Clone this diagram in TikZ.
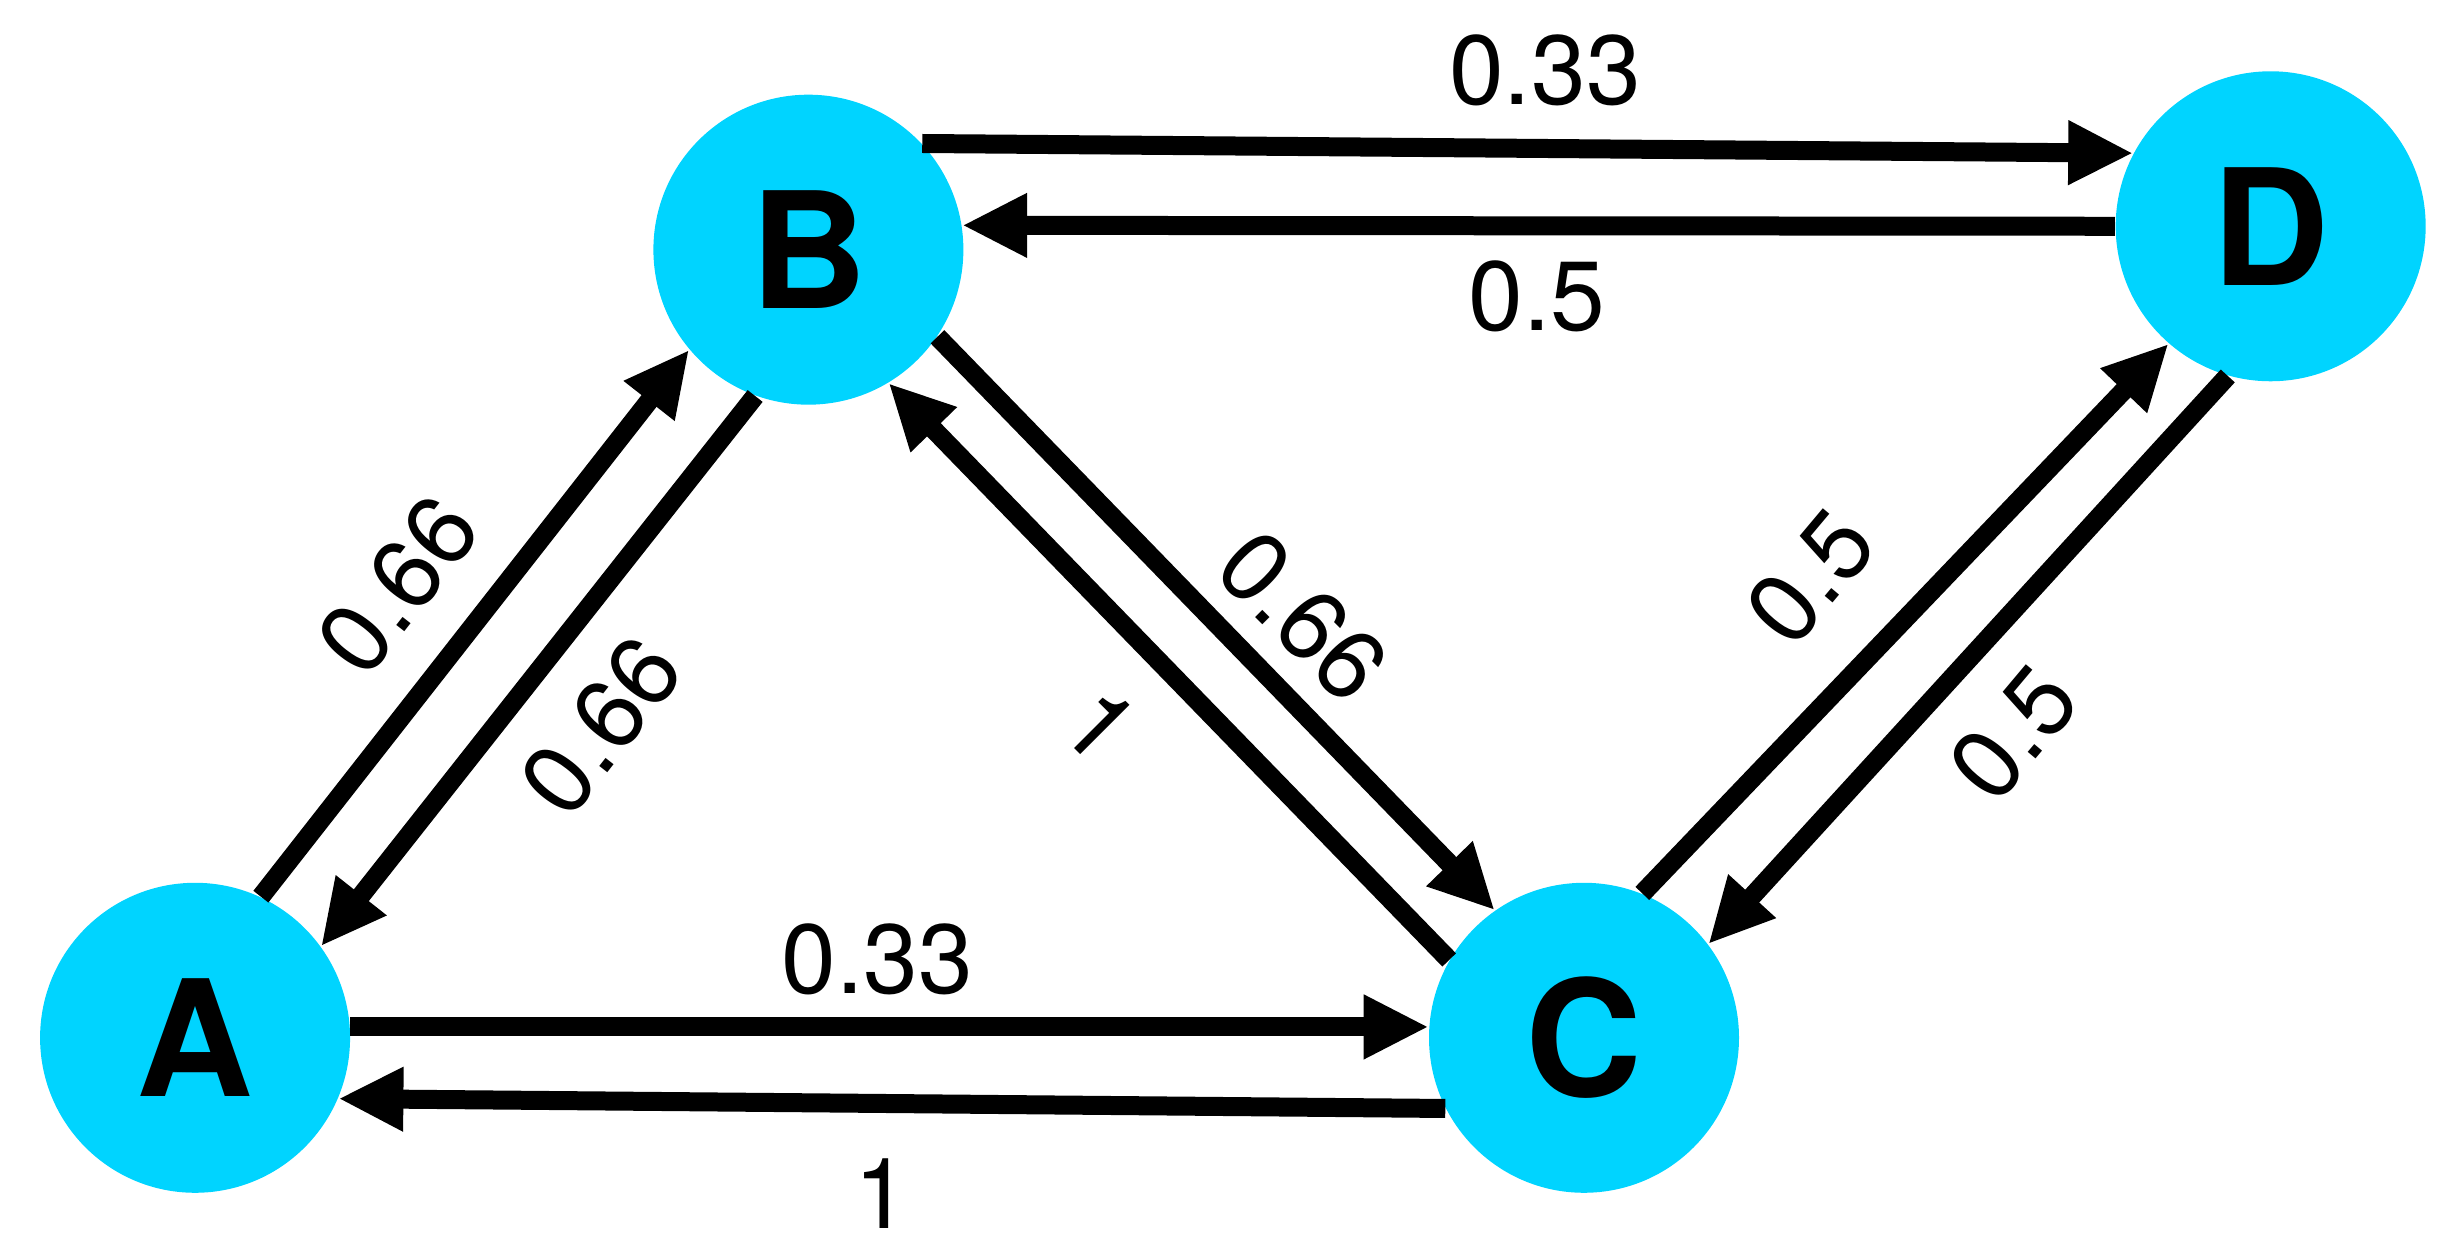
\documentclass[tikz,border=0pt]{standalone}
\usepackage{fontspec}
\setmainfont{TeX Gyre Heros}
\usetikzlibrary{arrows.meta}
\definecolor{nodecyan}{HTML}{00D4FF}
\begin{document}
\begin{tikzpicture}[x=0.15606mm,y=0.15606mm,
  vtx/.style={circle,fill=nodecyan,minimum size=31mm,inner sep=0pt,font=\fontsize{46}{46}\selectfont\bfseries},
  edge/.style={line width=1.9mm,-{Triangle[length=6.5mm,width=6mm]}},
  lab/.style={font=\fontsize{28}{28}\selectfont,inner sep=0pt}]
\useasboundingbox (0,0) rectangle (1568,-806);
\node[vtx] (A) at (125,-665) {A};
\node[vtx] (B) at (518,-160) {B};
\node[vtx] (C) at (1015,-665) {C};
\node[vtx] (D) at (1455,-145) {D};
\draw[edge] (A.65) -- (B.220);
\draw[edge] (B.250) -- (A.36);
\draw[edge] (A.4) -- (C.176);
\draw[edge] (C.207) -- (A.-23);
\draw[edge] (B.-34) -- (C.125);
\draw[edge] (C.150) -- (B.-59);
\draw[edge] (C.68) -- (D.229);
\draw[edge] (D.254) -- (C.37);
\draw[edge] (B.43) -- (D.152);
\draw[edge] (D.180) -- (B.9);
\node[lab] (l1) at (990,-45) {0.33};
\node[lab] (l2) at (985,-190) {0.5};
\node[lab,rotate=52] (l3) at (255,-375) {0.66};
\node[lab,rotate=52] (l4) at (385,-465) {0.66};
\node[lab,rotate=-45] (l5) at (705,-465) {1};
\node[lab,rotate=-45] (l6) at (835,-395) {0.66};
\node[lab,rotate=50] (l7) at (1160,-370) {0.5};
\node[lab,rotate=50] (l8) at (1290,-470) {0.5};
\node[lab] (l9) at (562,-615) {0.33};
\node[lab] (l10) at (565,-765) {1};
\end{tikzpicture}
\end{document}
